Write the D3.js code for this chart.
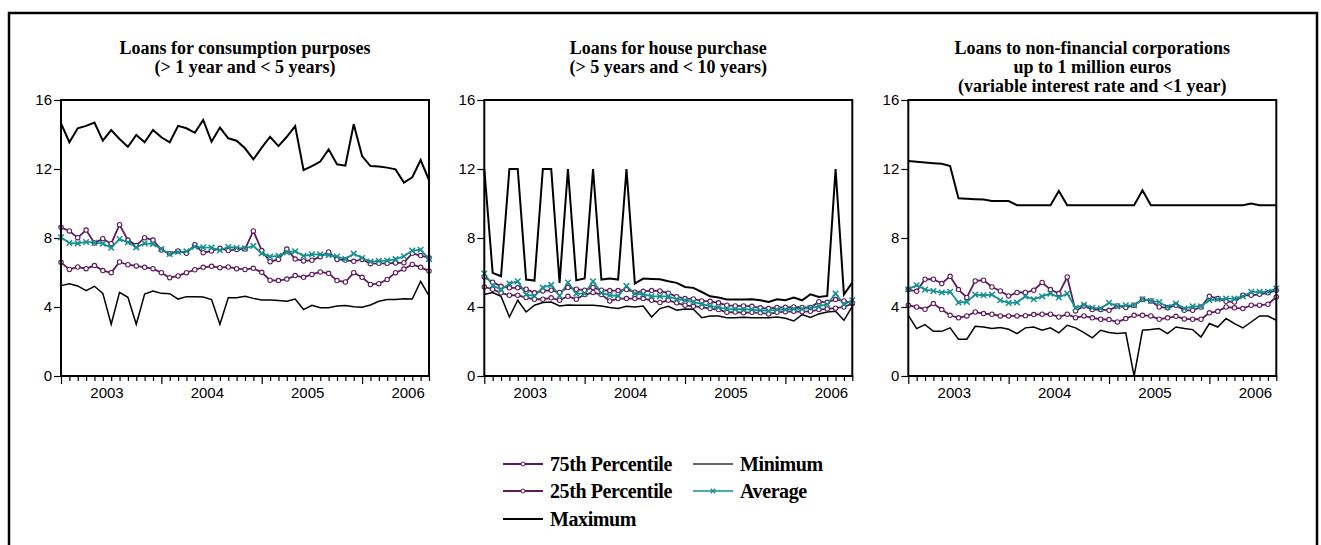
<!DOCTYPE html>
<html><head><meta charset="utf-8">
<script src="https://cdn.jsdelivr.net/npm/d3@7"></script>
<style>
body{margin:0;background:#fff}
.serif{font-family:"Liberation Serif","Times New Roman","DejaVu Serif",serif;font-weight:bold}
.sans{font-family:"Liberation Sans",Arial,sans-serif}
</style>
</head><body><svg id="c" width="1321" height="545"></svg>
<script>
// ---- data ----
const years = ["2003","2004","2005","2006"];
const monthsPerYear = 12;
const nObs = 45; // Jan 2003 .. Sep 2006
const yTicks = [0,4,8,12,16];
const seriesNames = ["75th Percentile","25th Percentile","Maximum","Minimum","Average"];
const titles = [
  ["Loans for consumption purposes","(> 1 year and < 5 years)"],
  ["Loans for house purchase","(> 5 years and < 10 years)"],
  ["Loans to non-financial corporations","up to 1 million euros","(variable interest rate and <1 year)"]
];

// Panel 1: consumption
const p1Max = [14.65,13.55,14.36,14.5,14.69,13.64,14.26,13.74,13.29,13.97,13.55,14.26,13.84,13.55,14.5,14.36,14.1,14.84,13.58,14.4,13.78,13.64,13.2,12.56,13.24,13.87,13.33,13.87,14.49,11.94,12.17,12.43,13.14,12.27,12.19,14.59,12.75,12.17,12.14,12.08,11.98,11.21,11.52,12.52,11.36];
const p1Min = [5.24,5.35,5.22,4.95,5.2,4.79,3.0,4.85,4.56,3.0,4.75,4.93,4.79,4.77,4.46,4.6,4.6,4.58,4.43,3.0,4.54,4.54,4.62,4.5,4.41,4.41,4.37,4.33,4.46,3.85,4.1,3.96,3.96,4.06,4.08,4.02,3.98,4.12,4.33,4.43,4.44,4.48,4.46,5.49,4.64];
const p1P75 = [8.62,8.41,8.02,8.46,7.71,7.96,7.67,8.77,7.88,7.56,8.02,7.88,7.3,7.09,7.25,7.11,7.61,7.15,7.25,7.4,7.27,7.34,7.36,8.41,7.27,6.63,6.76,7.36,6.78,6.67,6.71,6.92,7.19,6.76,6.72,6.65,6.76,6.51,6.53,6.53,6.55,6.57,7.11,6.98,6.86];
const p1Avg = [8.04,7.71,7.69,7.77,7.73,7.67,7.44,7.94,7.75,7.46,7.69,7.65,7.36,7.07,7.19,7.23,7.5,7.46,7.44,7.29,7.48,7.42,7.4,7.54,7.11,6.92,6.96,7.17,7.23,6.96,7.05,7.05,7.01,6.92,6.78,7.09,6.84,6.63,6.67,6.69,6.78,6.94,7.27,7.32,6.78];
const p1P25 = [6.59,6.18,6.32,6.22,6.4,6.11,5.99,6.61,6.45,6.38,6.3,6.22,5.99,5.7,5.8,5.99,6.16,6.3,6.36,6.28,6.32,6.22,6.18,6.24,6.01,5.55,5.53,5.62,5.82,5.72,5.89,6.03,5.95,5.53,5.45,5.99,5.72,5.31,5.35,5.6,5.99,6.2,6.47,6.3,6.09];

// Panel 2: house purchase
const p2Max = [12,5.98,5.78,12,12,5.59,5.53,12,12,5.4,12,5.55,5.65,12,5.59,5.65,5.59,12,5.36,5.65,5.63,5.61,5.49,5.4,5.16,5.11,4.87,4.62,4.55,4.43,4.43,4.43,4.45,4.39,4.29,4.45,4.39,4.55,4.39,4.74,4.58,4.64,12,4.72,5.42];
const p2Min = [4.72,4.84,4.62,3.42,4.39,3.71,4.1,4.26,4.29,4.06,4.12,4.1,4.1,4.1,4.06,3.97,3.91,4.04,4.0,4.06,3.42,3.91,4.04,3.81,3.89,3.87,3.38,3.48,3.48,3.38,3.38,3.4,3.38,3.37,3.37,3.42,3.35,3.19,3.56,3.4,3.6,3.71,3.75,3.23,4.04];
const p2P75 = [5.74,5.44,5.2,5.11,5.11,5.03,4.82,4.93,4.97,4.84,5.13,5.03,4.97,5.13,4.97,4.95,4.95,5.01,4.86,4.91,4.95,4.93,4.8,4.6,4.49,4.47,4.35,4.33,4.24,4.1,4.06,4.06,4.04,3.95,3.91,3.97,3.98,4.0,3.97,3.97,4.31,4.27,4.43,4.35,4.24];
const p2Avg = [5.94,5.26,5.01,5.36,5.49,4.72,4.64,5.13,5.28,4.66,5.42,4.78,4.78,5.49,4.82,4.68,4.64,5.22,4.78,4.74,4.62,4.62,4.62,4.45,4.39,4.29,4.16,4.06,3.97,3.89,3.87,3.87,3.85,3.81,3.77,3.85,3.85,3.89,3.89,3.95,4.04,4.16,4.78,4.14,4.39];
const p2P25 = [5.16,5.03,4.82,4.68,4.68,4.55,4.45,4.45,4.53,4.39,4.62,4.45,4.72,4.84,4.72,4.35,4.49,4.49,4.49,4.49,4.39,4.26,4.39,4.24,4.1,4.04,4.0,3.91,3.85,3.69,3.71,3.66,3.69,3.66,3.6,3.69,3.73,3.75,3.73,3.75,3.85,3.89,3.93,4.0,4.2];

// Panel 3: non-financial corporations
const p3Max = [12.46,12.42,12.38,12.34,12.3,12.17,10.3,10.27,10.25,10.23,10.15,10.15,10.14,9.9,9.9,9.9,9.9,9.9,10.72,9.9,9.9,9.9,9.9,9.9,9.9,9.9,9.9,9.9,10.77,9.9,9.9,9.9,9.9,9.9,9.9,9.9,9.9,9.9,9.9,9.9,9.9,10.0,9.9,9.9,9.9];
const p3Min = [3.52,2.75,2.98,2.59,2.59,2.79,2.13,2.13,2.88,2.84,2.75,2.81,2.71,2.46,2.79,2.84,2.65,2.79,2.5,2.94,2.79,2.52,2.21,2.65,2.52,2.46,2.5,0,2.65,2.69,2.75,2.46,2.84,2.75,2.69,2.26,3.04,2.84,3.33,3.04,2.79,3.13,3.48,3.48,3.23];
const p3P75 = [5.01,4.91,5.61,5.61,5.36,5.78,5.01,4.55,5.51,5.55,5.16,4.93,4.64,4.84,4.84,4.97,5.42,5.01,4.78,5.74,3.77,4.06,3.85,3.85,3.81,4.06,3.97,4.1,4.45,4.35,4.0,3.95,4.1,3.81,3.81,4.0,4.62,4.49,4.33,4.29,4.68,4.68,4.74,4.82,4.97];
const p3Avg = [5.03,5.26,5.01,4.93,4.84,4.88,4.26,4.3,4.72,4.68,4.72,4.39,4.24,4.26,4.62,4.45,4.62,4.78,4.55,4.78,3.95,4.12,3.95,3.91,4.24,4.04,4.1,4.1,4.45,4.35,4.29,4.0,4.2,3.91,4.04,4.04,4.39,4.45,4.49,4.49,4.62,4.88,4.88,4.88,5.07];
const p3P25 = [4.1,4.0,3.87,4.2,3.85,3.52,3.37,3.48,3.71,3.62,3.58,3.48,3.48,3.48,3.5,3.56,3.58,3.58,3.42,3.58,3.38,3.48,3.37,3.29,3.27,3.13,3.33,3.52,3.52,3.48,3.29,3.37,3.46,3.31,3.29,3.29,3.66,3.75,4.0,3.95,3.91,4.1,4.1,4.16,4.58];

const panelsData = [
  {p75:p1P75, p25:p1P25, max:p1Max, min:p1Min, avg:p1Avg},
  {p75:p2P75, p25:p2P25, max:p2Max, min:p2Min, avg:p2Avg},
  {p75:p3P75, p25:p3P25, max:p3Max, min:p3Min, avg:p3Avg}
];

// ---- style / layout ----
const PURPLE = "#5e1b5e", TEAL = "#16918f";
const plotLefts = [61, 484.3, 908.3];
const plotW = 368, plotTop = 100, plotBottom = 376;
const svg = d3.select("#c");

// outer frame
svg.append("path").attr("d","M9,545 L9,13 L1317,13 L1317,545")
  .attr("fill","none").attr("stroke","#000").attr("stroke-width",2.5);

const y = d3.scaleLinear().domain([0,16]).range([plotBottom, plotTop]);

panelsData.forEach((pd, k) => {
  const L = plotLefts[k];
  const x = d3.scaleLinear().domain([0, nObs-1]).range([L, L+plotW]);
  const g = svg.append("g");

  // title
  const t = g.append("text").attr("text-anchor","middle").attr("class","serif")
    .style("font-size","18px");
  titles[k].forEach((line,i) => {
    t.append("tspan").attr("x", L+plotW/2).attr("y", 54 + i*19).text(line);
  });

  // y axis
  const ya = g.append("g").attr("transform",`translate(${L},0)`)
    .call(d3.axisLeft(y).tickValues(yTicks).tickSize(7).tickPadding(2).tickFormat(d3.format("d")));
  ya.attr("font-family",null).attr("font-size",null);
  ya.select(".domain").remove();
  ya.selectAll("line").attr("stroke","#000").attr("stroke-width",1.2);
  ya.selectAll("text").attr("class","sans").style("font-size","15px").attr("fill","#000").attr("dy","0.33em");

  // x axis ticks
  const xa = g.append("g").attr("transform",`translate(0,${plotBottom})`)
    .call(d3.axisBottom(x).tickValues(d3.range(nObs)).tickSize(5).tickFormat(""));
  xa.select(".domain").remove();
  xa.selectAll(".tick line").attr("stroke","#000").attr("stroke-width",1.2)
    .attr("y2", d => d % monthsPerYear === 0 ? 8 : 5);
  years.forEach((yr,i) => {
    g.append("text").attr("x", x(i*monthsPerYear + 5.5)).attr("y", 398)
      .attr("text-anchor","middle").attr("class","sans").style("font-size","15px").text(yr);
  });

  // series
  const line = d3.line().x((d,i)=>x(i)).y(d=>y(d));
  const draw = (arr, color, w) => g.append("path").datum(arr).attr("d",line)
    .attr("fill","none").attr("stroke",color).attr("stroke-width",w).attr("stroke-linejoin","miter");
  draw(pd.min, "#000", 1.5);
  draw(pd.max, "#000", 2);
  draw(pd.p25, PURPLE, 1.8);
  draw(pd.p75, PURPLE, 1.8);
  draw(pd.avg, TEAL, 1.8);
  [pd.p25, pd.p75].forEach(arr => {
    g.append("g").selectAll("circle").data(arr).join("circle")
      .attr("cx",(d,i)=>x(i)).attr("cy",d=>y(d)).attr("r",2.2)
      .attr("fill","#fff").attr("stroke",PURPLE).attr("stroke-width",1.1);
  });
  g.append("g").selectAll("path").data(pd.avg).join("path")
    .attr("d",(d,i)=>{const cx=x(i), cy=y(d), s=2.8; return `M${cx-s},${cy-s}L${cx+s},${cy+s}M${cx-s},${cy+s}L${cx+s},${cy-s}`;})
    .attr("stroke",TEAL).attr("stroke-width",1.5);

  // plot box
  g.append("rect").attr("x",L).attr("y",plotTop).attr("width",plotW).attr("height",plotBottom-plotTop)
    .attr("fill","none").attr("stroke","#000").attr("stroke-width",2);
});

// ---- legend ----
const legendItems = [
  {name:seriesNames[0], color:PURPLE, w:1.8, marker:"circle", x:503, y:464},
  {name:seriesNames[3], color:"#333", w:1.3, marker:null, x:693, y:464},
  {name:seriesNames[1], color:PURPLE, w:1.8, marker:"circle", x:503, y:491},
  {name:seriesNames[4], color:TEAL, w:1.6, marker:"x", x:693, y:491},
  {name:seriesNames[2], color:"#000", w:2, marker:null, x:503, y:519}
];
const lg = svg.append("g");
legendItems.forEach(it => {
  lg.append("line").attr("x1",it.x).attr("x2",it.x+40).attr("y1",it.y).attr("y2",it.y)
    .attr("stroke",it.color).attr("stroke-width",it.w);
  if (it.marker==="circle") lg.append("circle").attr("cx",it.x+20).attr("cy",it.y).attr("r",2)
    .attr("fill","#fff").attr("stroke",it.color).attr("stroke-width",1);
  if (it.marker==="x") { const cx=it.x+20, cy=it.y, s=2.3;
    lg.append("path").attr("d",`M${cx-s},${cy-s}L${cx+s},${cy+s}M${cx-s},${cy+s}L${cx+s},${cy-s}`)
      .attr("stroke",it.color).attr("stroke-width",1.3); }
  lg.append("text").attr("x",it.x+47).attr("y",it.y+7).attr("class","serif")
    .style("font-size","20px").style("letter-spacing","-0.4px").text(it.name);
});
</script></body></html>
